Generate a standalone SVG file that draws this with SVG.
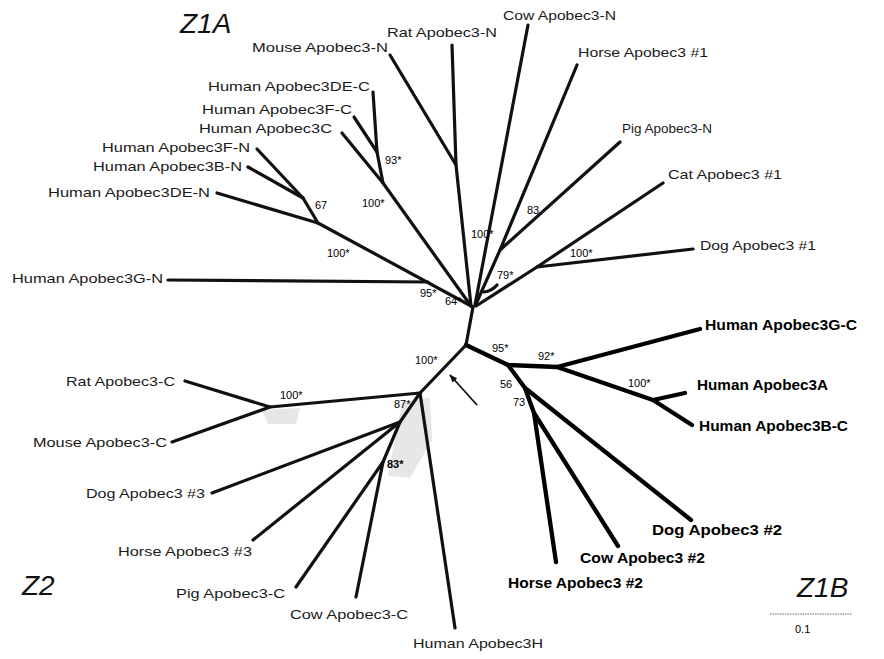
<svg xmlns="http://www.w3.org/2000/svg" width="884" height="659" viewBox="0 0 884 659">
<defs>
<style>
.br{fill:none;stroke:#111;stroke-width:3.2;stroke-linejoin:round;stroke-linecap:round}
.bb{fill:none;stroke:#000;stroke-width:4.3;stroke-linejoin:round;stroke-linecap:round}
.lb{font-family:"Liberation Sans",Arial,sans-serif;font-size:13.5px;fill:#1a1a1a}
.lbb{font-family:"Liberation Sans",Arial,sans-serif;font-size:15px;font-weight:bold;fill:#000}
.sp{font-family:"Liberation Sans",Arial,sans-serif;font-size:11px;fill:#000}
.z{font-family:"Liberation Sans",Arial,sans-serif;font-size:28px;font-style:italic;fill:#111}
</style>
<marker id="ah" viewBox="0 0 10 10" refX="9" refY="5" markerWidth="8" markerHeight="8" markerUnits="userSpaceOnUse" orient="auto">
<path d="M0,1 L10,5 L0,9 Z" fill="#111"/>
</marker>
</defs>
<rect width="884" height="659" fill="#fff"/>
<g id="shade" fill="#bbb" opacity="0.35">
<path d="M402,402 L430,398 L432,440 L410,478 L388,476 Z"/>
<path d="M262,410 L300,408 L296,424 L268,424 Z"/>
</g>
<g id="connectors">
<path class="br" d="M168,280 L428,282"/>
<path class="br" d="M318,223 L473,307"/>
<path class="br" d="M217,193 L318,223"/>
<path class="br" d="M303,198 L318,223"/>
<path class="br" d="M257,149 L303,198"/>
<path class="br" d="M248,167 L303,198"/>
<path class="br" d="M373,92 L377,152 L383,183 L471,306"/>
<path class="br" d="M354,117 L377,152"/>
<path class="br" d="M342,133 L383,183"/>
<path class="br" d="M390,55 L456,165"/>
<path class="br" d="M452,45 L456,165 L471,306"/>
<path class="br" d="M528,25 L475,305"/>
<path class="br" d="M577,65 L500,250"/>
<path class="br" d="M620,142 L500,250 L476,304"/>
<path class="br" d="M663,183 L537,267"/>
<path class="br" d="M693,249 L537,267 L476,306"/>
<path class="br" d="M473,307 L466,345"/>
<path class="br" d="M484,292 Q492,291 497,285" stroke-width="1.5"/>
<path class="bb" d="M466,345 L508,365 L557,367 L700,329"/>
<path class="bb" d="M557,367 L653,400 L692,425"/>
<path class="bb" d="M653,400 L685,393"/>
<path class="bb" d="M508,365 L525,388 L691,520"/>
<path class="bb" d="M525,388 L534,413 L618,546"/>
<path class="bb" d="M534,413 L556,562"/>
<path class="br" d="M466,345 L420,393"/>
<path class="br" d="M420,393 L270,407 L185,381"/>
<path class="br" d="M270,407 L172,442"/>
<path class="br" d="M420,393 L455,628"/>
<path class="br" d="M420,393 L400,422 L253,540"/>
<path class="br" d="M400,422 L212,493"/>
<path class="br" d="M400,422 L383,462 L296,587"/>
<path class="br" d="M383,462 L356,597"/>
<path d="M477,405 L450,375" stroke="#111" stroke-width="1.8" fill="none" marker-end="url(#ah)"/>
<path d="M770,614 L852,614" stroke="#666" stroke-width="1" stroke-dasharray="1.5,1"/>
</g>
<g id="labels-z1a">
<text class="z" x="180" y="33">Z1A</text>
<text class="lb" x="252" y="52" textLength="136" lengthAdjust="spacingAndGlyphs">Mouse Apobec3-N</text>
<text class="lb" x="387" y="37" textLength="110" lengthAdjust="spacingAndGlyphs">Rat Apobec3-N</text>
<text class="lb" x="503" y="20" textLength="113" lengthAdjust="spacingAndGlyphs">Cow Apobec3-N</text>
<text class="lb" x="578" y="57" textLength="130" lengthAdjust="spacingAndGlyphs">Horse Apobec3 #1</text>
<text class="lb" x="622" y="133" textLength="90" lengthAdjust="spacingAndGlyphs">Pig Apobec3-N</text>
<text class="lb" x="668" y="179" textLength="114" lengthAdjust="spacingAndGlyphs">Cat Apobec3 #1</text>
<text class="lb" x="700" y="250" textLength="116" lengthAdjust="spacingAndGlyphs">Dog Apobec3 #1</text>
<text class="lb" x="208" y="91" textLength="162" lengthAdjust="spacingAndGlyphs">Human Apobec3DE-C</text>
<text class="lb" x="202" y="114" textLength="150" lengthAdjust="spacingAndGlyphs">Human Apobec3F-C</text>
<text class="lb" x="199" y="133" textLength="133" lengthAdjust="spacingAndGlyphs">Human Apobec3C</text>
<text class="lb" x="102" y="152" textLength="148" lengthAdjust="spacingAndGlyphs">Human Apobec3F-N</text>
<text class="lb" x="93" y="171" textLength="149" lengthAdjust="spacingAndGlyphs">Human Apobec3B-N</text>
<text class="lb" x="48" y="197" textLength="162" lengthAdjust="spacingAndGlyphs">Human Apobec3DE-N</text>
<text class="lb" x="12" y="283" textLength="151" lengthAdjust="spacingAndGlyphs">Human Apobec3G-N</text>
</g>
<g id="labels-z2">
<text class="z" x="22" y="595">Z2</text>
<text class="lb" x="66" y="386" textLength="109" lengthAdjust="spacingAndGlyphs">Rat Apobec3-C</text>
<text class="lb" x="33" y="447" textLength="134" lengthAdjust="spacingAndGlyphs">Mouse Apobec3-C</text>
<text class="lb" x="86" y="498" textLength="119" lengthAdjust="spacingAndGlyphs">Dog Apobec3 #3</text>
<text class="lb" x="118" y="556" textLength="134" lengthAdjust="spacingAndGlyphs">Horse Apobec3 #3</text>
<text class="lb" x="176" y="598" textLength="109" lengthAdjust="spacingAndGlyphs">Pig Apobec3-C</text>
<text class="lb" x="290" y="619" textLength="118" lengthAdjust="spacingAndGlyphs">Cow Apobec3-C</text>
<text class="lb" x="413" y="648" textLength="130" lengthAdjust="spacingAndGlyphs">Human Apobec3H</text>
</g>
<g id="labels-z1b">
<text class="z" x="797" y="597">Z1B</text>
<text class="lbb" x="705" y="330" textLength="152" lengthAdjust="spacingAndGlyphs">Human Apobec3G-C</text>
<text class="lbb" x="697" y="390" textLength="131" lengthAdjust="spacingAndGlyphs">Human Apobec3A</text>
<text class="lbb" x="699" y="431" textLength="149" lengthAdjust="spacingAndGlyphs">Human Apobec3B-C</text>
<text class="lbb" x="652" y="535" textLength="130" lengthAdjust="spacingAndGlyphs">Dog Apobec3 #2</text>
<text class="lbb" x="580" y="563" textLength="125" lengthAdjust="spacingAndGlyphs">Cow Apobec3 #2</text>
<text class="lbb" x="508" y="588" textLength="135" lengthAdjust="spacingAndGlyphs">Horse Apobec3 #2</text>
</g>
<g id="support">
<text class="sp" x="385" y="164">93*</text>
<text class="sp" x="362" y="207">100*</text>
<text class="sp" x="315" y="209">67</text>
<text class="sp" x="327" y="257">100*</text>
<text class="sp" x="471" y="238">100*</text>
<text class="sp" x="420" y="297">95*</text>
<text class="sp" x="445" y="305">64*</text>
<text class="sp" x="497" y="279">79*</text>
<text class="sp" x="527" y="214">83</text>
<text class="sp" x="570" y="257">100*</text>
<text class="sp" x="492" y="352">95*</text>
<text class="sp" x="538" y="360">92*</text>
<text class="sp" x="628" y="387">100*</text>
<text class="sp" x="500" y="388">56</text>
<text class="sp" x="513" y="406">73</text>
<text class="sp" x="415" y="364">100*</text>
<text class="sp" x="280" y="399">100*</text>
<text class="sp" x="394" y="408">87*</text>
<text class="sp" x="387" y="468" font-weight="bold">83*</text>
</g>
<text class="sp" x="795" y="633" font-size="12">0.1</text>
</svg>
